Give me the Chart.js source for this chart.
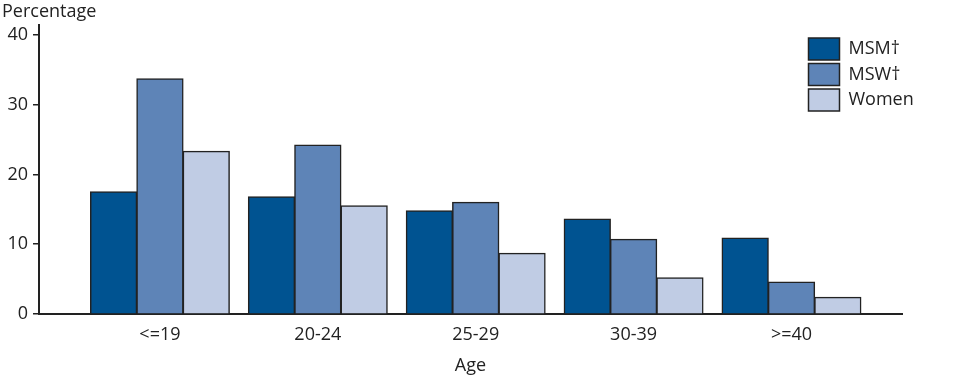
<!DOCTYPE html>
<html>
<head>
<meta charset="utf-8">
<script src="https://cdn.jsdelivr.net/npm/chart.js@4"></script>
<style>
  html, body { margin: 0; padding: 0; background: #fff; }
  #wrap { width: 960px; height: 385px; }
</style>
</head>
<body>
<div id="wrap"><canvas id="c" width="960" height="385"></canvas></div>
<script>
const ageLabels = ['<=19', '20-24', '25-29', '30-39', '>=40'];
const msm   = [17.5, 16.8, 14.8, 13.6, 10.9];
const msw   = [33.7, 24.2, 16.0, 10.7, 4.6];
const women = [23.3, 15.5, 8.7, 5.2, 2.4];
const yTicks = [0, 10, 20, 30, 40];

const FONT = "'Open Sans', 'DejaVu Sans', sans-serif";
const INK = '#222';

function pts(arr) { return arr.map((v, i) => ({ x: i, y: v })); }

const legendMover = {
  id: 'legendMover',
  afterLayout(chart) {
    const lg = chart.legend;
    if (!lg) return;
    const w = lg.width, h = lg.height;
    lg.left = 805; lg.right = lg.left + w;
    lg.top = 34.5; lg.bottom = lg.top + h;
  }
};

new Chart(document.getElementById('c'), {
  type: 'bar',
  data: {
    datasets: [
      { label: 'MSM\u2020', data: pts(msm), backgroundColor: '#005391', borderColor: INK, borderWidth: 1.5 },
      { label: 'MSW\u2020', data: pts(msw), backgroundColor: '#5E84B7', borderColor: INK, borderWidth: 1.5 },
      { label: 'Women', data: pts(women), backgroundColor: '#C0CCE4', borderColor: INK, borderWidth: 1.5 }
    ]
  },
  plugins: [legendMover],
  options: {
    responsive: false,
    animation: false,
    devicePixelRatio: 1,
    layout: { padding: { left: 2, right: 58, top: 0, bottom: 0 } },
    datasets: { bar: { categoryPercentage: 0.88, barPercentage: 1.0, inflateAmount: 0.5 } },
    plugins: {
      tooltip: { enabled: false },
      title: {
        display: true, text: 'Percentage', align: 'start', color: INK,
        font: { family: FONT, size: 18, weight: 'normal' },
        padding: { top: 1, bottom: 2.4 }
      },
      legend: {
        display: true, position: 'chartArea', align: 'start',
        labels: {
          boxWidth: 31, boxHeight: 22, padding: 3.5, color: INK,
          font: { family: FONT, size: 18 }
        }
      }
    },
    scales: {
      x: {
        type: 'linear', offset: false,
        min: -0.766, max: 4.70,
        grid: { display: true, drawOnChartArea: false, drawTicks: false },
        border: { display: true, color: INK, width: 2 },
        afterBuildTicks(s) { s.ticks = ageLabels.map((_, i) => ({ value: i })); },
        afterFit(s) { s.height = 71; },
        ticks: {
          padding: 10, color: INK, maxRotation: 0, autoSkip: false,
          font: { family: FONT, size: 18 },
          callback: (v) => ageLabels[Math.round(v)]
        },
        title: {
          display: true, text: 'Age', color: INK,
          font: { family: FONT, size: 18 },
          padding: { top: 0, bottom: 8 }
        }
      },
      y: {
        min: 0, max: 41.4,
        grid: { display: true, drawOnChartArea: false, drawTicks: true, tickLength: 6, color: INK, lineWidth: 1.5 },
        border: { display: true, color: INK, width: 2 },
        afterBuildTicks(s) { s.ticks = yTicks.map(v => ({ value: v })); },
        afterFit(s) { s.width = 37; },
        ticks: {
          padding: 5, color: INK,
          font: { family: FONT, size: 18 }
        }
      }
    }
  }
});
</script>
</body>
</html>
